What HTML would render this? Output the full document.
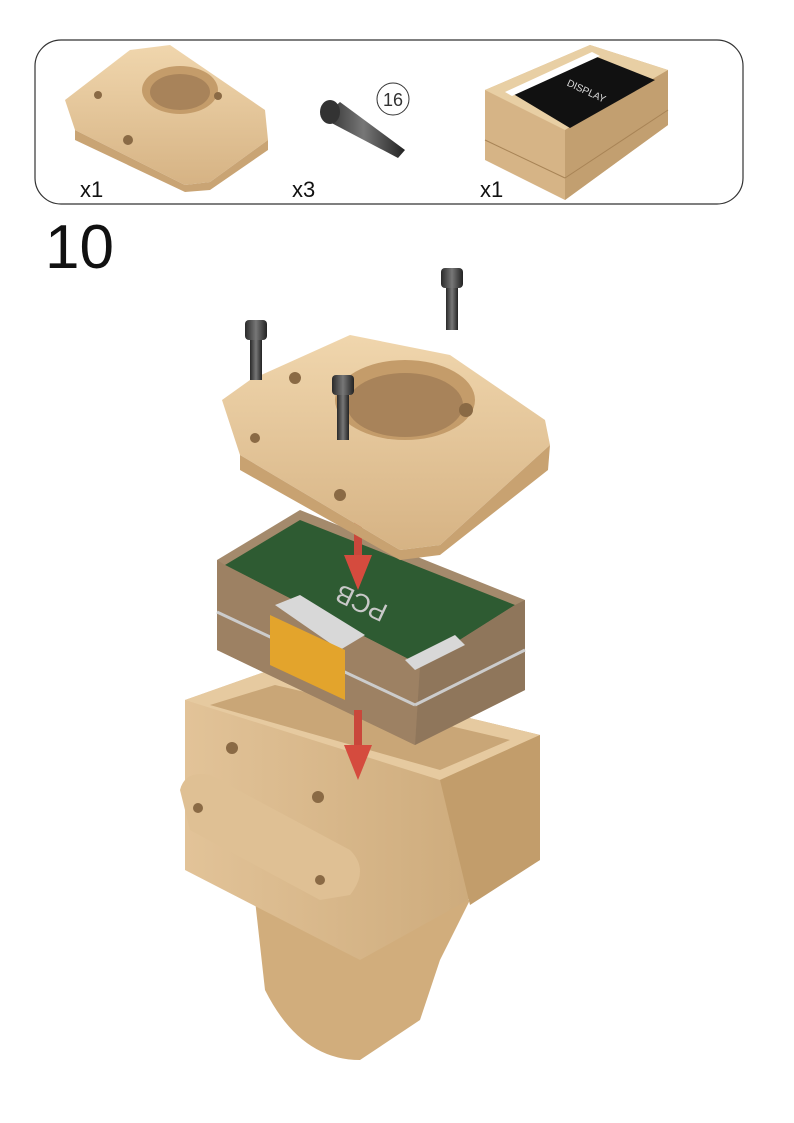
<!DOCTYPE html>
<html><head><meta charset="utf-8"><style>
html,body{margin:0;padding:0;background:#fff;}
body{width:794px;height:1123px;overflow:hidden;font-family:"Liberation Sans",sans-serif;}
svg{display:block}
</style></head><body>
<svg width="794" height="1123" viewBox="0 0 794 1123">
<defs>
<linearGradient id="tan" x1="0" y1="0" x2="0" y2="1"><stop offset="0" stop-color="#f0d6ad"/><stop offset="1" stop-color="#d6b384"/></linearGradient>
<linearGradient id="tanside" x1="0" y1="0" x2="1" y2="0"><stop offset="0" stop-color="#e2c398"/><stop offset="1" stop-color="#c9a676"/></linearGradient>
<linearGradient id="screw" x1="0" y1="0" x2="1" y2="0"><stop offset="0" stop-color="#2a2a2a"/><stop offset=".5" stop-color="#777"/><stop offset="1" stop-color="#222"/></linearGradient>
</defs>

<!-- parts list box -->
<g>
<rect x="35" y="40" width="708" height="164" rx="26" fill="#fff" stroke="#333" stroke-width="1.2"/>
<g>
<polygon points="65,100 130,50 170,45 265,110 268,140 210,182 185,185 75,130" fill="url(#tan)"/>
<polygon points="75,130 185,185 210,182 268,140 268,150 210,190 185,192 75,140" fill="#c9a474"/>
<ellipse cx="180" cy="90" rx="38" ry="24" fill="#c49c6a"/>
<ellipse cx="180" cy="92" rx="30" ry="18" fill="#a8835a"/>
<circle cx="128" cy="140" r="5" fill="#8a6a45"/><circle cx="218" cy="96" r="4" fill="#8a6a45"/><circle cx="98" cy="95" r="4" fill="#8a6a45"/>
</g>
<g>
<polygon points="322,118 340,102 405,150 398,158" fill="url(#screw)"/>
<ellipse cx="330" cy="112" rx="10" ry="12" fill="#333"/>
<circle cx="393" cy="99" r="16" fill="#fff" stroke="#333" stroke-width="1"/>
<text x="393" y="106" font-size="18" text-anchor="middle" fill="#333">16</text>
</g>
<g>
<polygon points="485,90 590,45 668,70 668,125 565,200 485,160" fill="#d6b486"/>
<polygon points="485,90 565,130 668,70 590,45" fill="#e8cfa4"/>
<polygon points="565,130 668,70 668,125 565,200" fill="#c29f70"/>
<polygon points="510,92 592,55 655,80 570,128" fill="#111"/>
<polygon points="505,92 592,52 600,56 512,96" fill="#fff"/>
<text x="585" y="94" font-size="10" fill="#ddd" transform="rotate(25 585 94)" text-anchor="middle">DISPLAY</text>
<line x1="485" y1="140" x2="565" y2="178" stroke="#a88456"/><line x1="565" y1="178" x2="668" y2="110" stroke="#a88456"/>
</g>
<text x="80" y="197" font-size="22" fill="#111">x1</text>
<text x="292" y="197" font-size="22" fill="#111">x3</text>
<text x="480" y="197" font-size="22" fill="#111">x1</text>
</g>

<text x="45" y="268" font-size="62" fill="#111">10</text>

<!-- bottom housing -->
<g>
<path d="M255,900 L265,990 Q300,1060 360,1060 L420,1020 L440,960 L470,900 Z" fill="#d1ad7c"/>
<polygon points="185,700 270,670 540,735 540,860 360,960 185,870" fill="url(#tanside)"/>
<polygon points="185,700 270,670 540,735 440,780" fill="#e6caa0"/>
<polygon points="210,705 275,685 510,740 440,770" fill="#c9a677"/>
<polygon points="440,780 540,735 540,860 470,905" fill="#c29d6b"/>
<path d="M180,790 Q185,770 210,775 L350,850 Q370,870 350,895 L320,900 L190,830 Z" fill="#dfc094"/>
<circle cx="232" cy="748" r="6" fill="#8a6a45"/><circle cx="318" cy="797" r="6" fill="#8a6a45"/>
<circle cx="198" cy="808" r="5" fill="#8a6a45"/><circle cx="320" cy="880" r="5" fill="#8a6a45"/>
</g>

<!-- PCB tray -->
<g>
<polygon points="217,560 300,510 525,600 525,690 415,745 217,650" fill="#a48a6c"/>
<polygon points="225,565 300,520 515,605 420,665" fill="#2e5b32"/>
<polygon points="217,560 225,565 420,665 415,745 217,650" fill="#9d8163"/>
<polygon points="420,665 515,605 525,600 525,690 415,745" fill="#8f765b"/>
<polygon points="275,605 300,595 365,635 340,650" fill="#d8d8d8"/>
<polygon points="405,660 455,635 465,645 415,670" fill="#d8d8d8"/>
<line x1="217" y1="612" x2="415" y2="705" stroke="#ccc" stroke-width="3"/>
<line x1="415" y1="705" x2="525" y2="650" stroke="#ccc" stroke-width="3"/>
<polygon points="270,615 345,650 345,700 270,665" fill="#e3a42c"/>
<text x="365" y="595" font-size="26" fill="#c9c9c9" transform="rotate(205 365 595)" text-anchor="middle">PCB</text>
</g>

<!-- arrows -->
<g>
<rect x="354" y="520" width="8" height="40" fill="#c9473b"/><polygon points="344,555 372,555 358,590" fill="#d54b3e"/>
<rect x="354" y="710" width="8" height="40" fill="#c9473b"/><polygon points="344,745 372,745 358,780" fill="#d54b3e"/>
</g>

<!-- top lid -->
<g>
<polygon points="222,400 250,380 350,335 450,355 545,420 550,445 440,545 400,550 240,455" fill="url(#tan)"/>
<polygon points="240,455 400,550 440,545 550,445 548,470 440,555 400,560 240,470" fill="#c8a271"/>
<ellipse cx="405" cy="400" rx="70" ry="40" fill="#c49c6a"/>
<ellipse cx="405" cy="405" rx="58" ry="32" fill="#a8835a"/>
<circle cx="295" cy="378" r="6" fill="#8a6a45"/><circle cx="466" cy="410" r="7" fill="#8a6a45"/>
<circle cx="340" cy="495" r="6" fill="#8a6a45"/><circle cx="255" cy="438" r="5" fill="#8a6a45"/>
</g>

<!-- screws -->
<g>
<rect x="245" y="320" width="22" height="20" rx="4" fill="url(#screw)"/><rect x="250" y="340" width="12" height="40" fill="url(#screw)"/>
<rect x="441" y="268" width="22" height="20" rx="4" fill="url(#screw)"/><rect x="446" y="288" width="12" height="42" fill="url(#screw)"/>
<rect x="332" y="375" width="22" height="20" rx="4" fill="url(#screw)"/><rect x="337" y="395" width="12" height="45" fill="url(#screw)"/>
</g>
</svg>
</body></html>
